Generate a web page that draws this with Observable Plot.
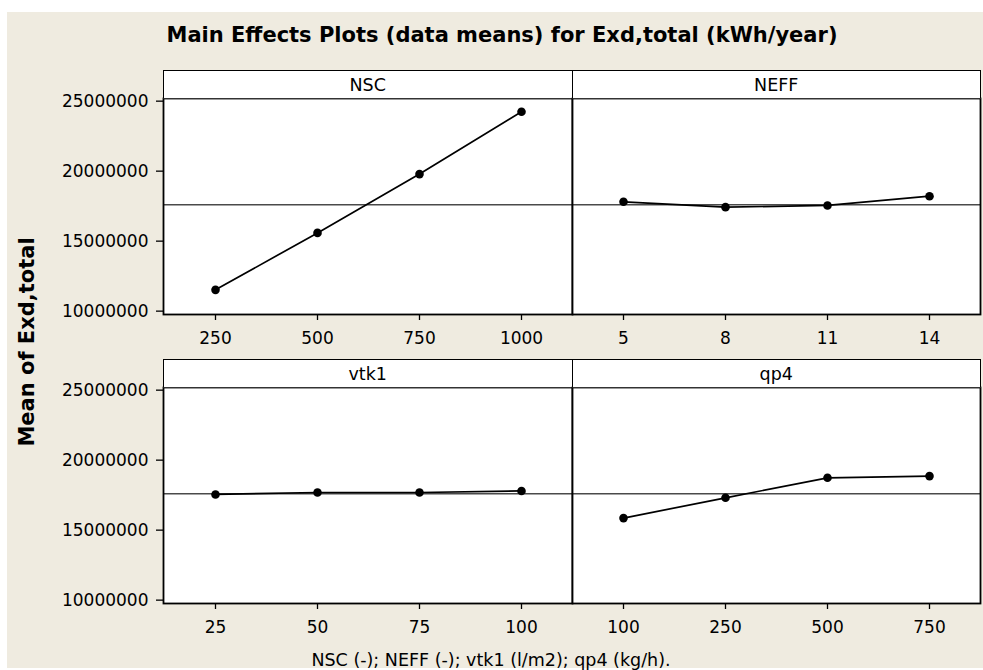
<!DOCTYPE html>
<html>
<head>
<meta charset="utf-8">
<script src="https://cdn.jsdelivr.net/npm/d3@7"></script>
<script src="https://cdn.jsdelivr.net/npm/@observablehq/plot@0.6"></script>
<style>
  body { margin: 0; background: #ffffff; }
  #root { position: relative; width: 983px; height: 670px; overflow: hidden; font-family: "DejaVu Sans", sans-serif; color: #000; }
  #bg { position: absolute; left: 7px; top: 12px; width: 976px; height: 656px; background: #efebe0; }
  .abs { position: absolute; white-space: nowrap; }
  #title { left: 502px; top: 35px; transform: translate(-50%, -50%); font-weight: bold; font-size: 21px; }
  #ylabel { left: 27px; top: 342px; transform: translate(-50%, -50%) rotate(-90deg); font-weight: bold; font-size: 21px; }
  #caption { left: 491px; top: 660px; transform: translate(-50%, -50%); font-size: 17.5px; }
  .strip { position: absolute; box-sizing: border-box; background: #fff; border: 1.6px solid #000; border-bottom: 1.5px solid #333; font-size: 17.5px; display: flex; align-items: center; justify-content: center; }
  .panel { position: absolute; }
</style>
</head>
<body>
<div id="root">
  <div id="bg"></div>
  <div id="title" class="abs">Main Effects Plots (data means) for Exd,total (kWh/year)</div>
  <div id="ylabel" class="abs">Mean of Exd,total</div>
  <div id="caption" class="abs">NSC (-); NEFF (-); vtk1 (l/m2); qp4 (kg/h).</div>
</div>
<script>
// ---- data ----
const factorNames = ["NSC", "NEFF", "vtk1", "qp4"];
const levelsNSC = ["250", "500", "750", "1000"];
const meansNSC = [11520000, 15590000, 19790000, 24240000];
const levelsNEFF = ["5", "8", "11", "14"];
const meansNEFF = [17810000, 17430000, 17550000, 18210000];
const levelsVtk1 = ["25", "50", "75", "100"];
const meansVtk1 = [17550000, 17690000, 17690000, 17800000];
const levelsQp4 = ["100", "250", "500", "750"];
const meansQp4 = [15860000, 17310000, 18740000, 18860000];
const grandMean = 17600000;
const yTicks = [10000000, 15000000, 20000000, 25000000];
const yDomain = [9760000, 25190000];

const root = document.getElementById("root");

// layout (pixels)
const colLeft = [163, 572];
const colWidth = [409, 408];
const rowTop = [98, 387];
const dataH = 216;
const stripH = 28;

function panel(name, levels, means, col, row) {
  const data = levels.map((l, i) => ({level: l, mean: means[i]}));
  const showY = col === 0;
  const mL = showY ? 110 : 2, mR = 2, mT = 2, mB = 40;
  const chart = Plot.plot({
    width: mL + colWidth[col] + mR,
    height: mT + dataH + mB,
    marginLeft: mL, marginRight: mR, marginTop: mT, marginBottom: mB,
    style: {background: "transparent", fontFamily: "DejaVu Sans, sans-serif", fontSize: "17px", color: "#000", overflow: "visible"},
    x: {type: "point", domain: levels, padding: 0.5, label: null, axis: null},
    y: {domain: yDomain, label: null, axis: null},
    marks: [
      Plot.frame({fill: "#ffffff", stroke: null}),
      Plot.ruleY([grandMean], {stroke: "#4a4a4a", strokeWidth: 1.3}),
      Plot.line(data, {x: "level", y: "mean", stroke: "#000", strokeWidth: 1.7}),
      Plot.dot(data, {x: "level", y: "mean", r: 4.3, fill: "#000", stroke: null}),
      Plot.axisX({tickSize: 6, tickPadding: 11, label: null, stroke: "#000", strokeWidth: 1.3}),
      showY ? Plot.axisY({ticks: yTicks, tickFormat: d => d3.format("d")(d), tickSize: 7, tickPadding: 8, label: null, strokeWidth: 1.3}) : null,
      Plot.frame({stroke: "#000", strokeWidth: 1.8})
    ]
  });
  chart.classList.add("panel");
  chart.style.left = (colLeft[col] - mL) + "px";
  chart.style.top = (rowTop[row] - mT) + "px";
  root.appendChild(chart);

  const strip = document.createElement("div");
  strip.className = "strip";
  strip.style.left = (colLeft[col] - 0.5) + "px";
  strip.style.top = (rowTop[row] - stripH) + "px";
  strip.style.width = (colWidth[col] + 1.5) + "px";
  strip.style.height = (stripH + 1) + "px";
  strip.textContent = name;
  root.appendChild(strip);
}

panel(factorNames[0], levelsNSC, meansNSC, 0, 0);
panel(factorNames[1], levelsNEFF, meansNEFF, 1, 0);
panel(factorNames[2], levelsVtk1, meansVtk1, 0, 1);
panel(factorNames[3], levelsQp4, meansQp4, 1, 1);
</script>
</body>
</html>
